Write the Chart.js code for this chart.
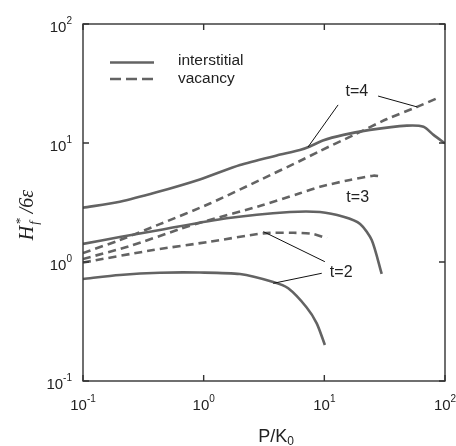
<!DOCTYPE html>
<html>
<head>
<meta charset="utf-8">
<script src="https://cdn.jsdelivr.net/npm/chart.js@4.4.1/dist/chart.umd.min.js"></script>
<style>
  html, body { margin: 0; padding: 0; background: #fff; }
</style>
</head>
<body>
<canvas id="grafico" width="456" height="446"></canvas>
<script>
// valores (P/K0 contra Hf*/6e)
const t4InterX = [0.1, 0.202, 0.406, 0.929, 2.0, 4.03, 6.27, 7.59, 9.72, 14.4, 23.9, 48.3, 66.4, 80.3, 100];
const t4InterY = [2.86, 3.21, 3.85, 4.94, 6.53, 7.85, 8.73, 9.35, 10.5, 11.7, 12.9, 14.0, 13.7, 11.7, 9.94];
const t4VacX = [0.1, 0.202, 0.433, 1.126, 2.93, 6.27, 9.2, 17.3, 33.1, 58.7, 86.1];
const t4VacY = [1.19, 1.53, 2.08, 3.10, 4.89, 7.06, 8.57, 11.6, 15.9, 20.1, 23.8];
const t3InterX = [0.1, 0.202, 0.433, 1.55, 5.19, 9.2, 14.4, 19.8, 24.7, 29.9];
const t3InterY = [1.42, 1.62, 1.86, 2.33, 2.63, 2.63, 2.40, 2.09, 1.53, 0.793];
const t3VacX = [0.1, 0.244, 0.634, 0.985, 3.10, 6.27, 9.2, 16.3, 25.4, 29.9];
const t3VacY = [1.06, 1.36, 1.89, 2.17, 3.01, 3.78, 4.29, 4.89, 5.31, 5.24];
const t2InterX = [0.1, 0.202, 0.433, 0.929, 2.0, 3.77, 5.02, 7.14, 8.65, 10.1];
const t2InterY = [0.72, 0.778, 0.813, 0.816, 0.792, 0.679, 0.601, 0.415, 0.305, 0.201];
const t2VacX = [0.1, 0.381, 1.126, 3.12, 5.53, 8.06, 10.5];
const t2VacY = [0.99, 1.26, 1.48, 1.74, 1.76, 1.72, 1.58];

const marcas = [0.1, 1, 10, 100];
const exponentes = ['-1', '0', '1', '2'];

// etiquetas t=... y sus lineas guia (en unidades de datos)
const etiquetas = [
  { texto: 't=4', x: 18.6, y: 26.9 },
  { texto: 't=3', x: 18.9, y: 3.45 },
  { texto: 't=2', x: 13.8, y: 0.809 }
];
const guias = [
  [13.0, 20.9, 7.33, 9.25],
  [27.9, 24.8, 58.7, 20.1],
  [10.1, 1.006, 3.12, 1.80],
  [9.52, 0.804, 3.77, 0.662]
];

const gris = '#636363';

function serie(xs, ys, discontinua) {
  return {
    data: xs.map((x, i) => ({ x: x, y: ys[i] })),
    borderColor: gris,
    borderWidth: 2.6,
    borderDash: discontinua ? [8, 5] : [],
    pointRadius: 0,
    tension: 0.25,
    fill: false
  };
}

const marco = {
  id: 'marco',
  afterDatasetsDraw(chart) {
    const ctx = chart.ctx;
    const a = chart.chartArea;
    const sx = chart.scales.x;
    const sy = chart.scales.y;
    ctx.save();

    // lineas guia
    ctx.strokeStyle = '#111';
    ctx.lineWidth = 1;
    guias.forEach(g => {
      ctx.beginPath();
      ctx.moveTo(sx.getPixelForValue(g[0]), sy.getPixelForValue(g[1]));
      ctx.lineTo(sx.getPixelForValue(g[2]), sy.getPixelForValue(g[3]));
      ctx.stroke();
    });

    // caja y marcas hacia adentro
    ctx.strokeStyle = '#333';
    ctx.lineWidth = 1.4;
    ctx.strokeRect(a.left, a.top, a.right - a.left, a.bottom - a.top);
    marcas.forEach(v => {
      const px = sx.getPixelForValue(v);
      const py = sy.getPixelForValue(v);
      ctx.beginPath();
      ctx.moveTo(px, a.bottom); ctx.lineTo(px, a.bottom - 6);
      ctx.moveTo(px, a.top); ctx.lineTo(px, a.top + 6);
      ctx.moveTo(a.left, py); ctx.lineTo(a.left + 6, py);
      ctx.moveTo(a.right, py); ctx.lineTo(a.right - 6, py);
      ctx.stroke();
    });

    // etiquetas de las marcas 10^n
    ctx.fillStyle = '#222';
    ctx.textBaseline = 'alphabetic';
    const base = '15px "Liberation Sans", Arial, sans-serif';
    const sup = '10px "Liberation Sans", Arial, sans-serif';
    marcas.forEach((v, i) => {
      ctx.font = base;
      const w1 = ctx.measureText('10').width;
      ctx.font = sup;
      const w2 = ctx.measureText(exponentes[i]).width;
      // eje x
      let x0 = sx.getPixelForValue(v) - (w1 + w2) / 2;
      ctx.textAlign = 'left';
      ctx.font = base;
      ctx.fillText('10', x0, a.bottom + 29);
      ctx.font = sup;
      ctx.fillText(exponentes[i], x0 + w1, a.bottom + 21);
      // eje y
      x0 = a.left - 11 - (w1 + w2);
      const py = sy.getPixelForValue(v);
      ctx.font = base;
      ctx.fillText('10', x0, py + 8);
      ctx.font = sup;
      ctx.fillText(exponentes[i], x0 + w1, py);
    });

    // titulo eje x: P/K0
    ctx.font = '18px "Liberation Sans", Arial, sans-serif';
    const wp = ctx.measureText('P/K').width;
    ctx.font = '12px "Liberation Sans", Arial, sans-serif';
    const w0 = ctx.measureText('0').width;
    let xt = 276 - (wp + w0) / 2;
    ctx.font = '18px "Liberation Sans", Arial, sans-serif';
    ctx.fillText('P/K', xt, 442);
    ctx.font = '12px "Liberation Sans", Arial, sans-serif';
    ctx.fillText('0', xt + wp, 445);

    // titulo eje y: Hf*/6e
    ctx.save();
    ctx.translate(33, 215);
    ctx.rotate(-Math.PI / 2);
    const it = 'italic 20px "Liberation Serif", "Times New Roman", serif';
    const itp = 'italic 13px "Liberation Serif", "Times New Roman", serif';
    ctx.font = it;
    const wH = ctx.measureText('H').width;
    ctx.font = itp;
    const wf = ctx.measureText('f').width + 4;
    ctx.font = it;
    const wr = ctx.measureText(' /6\u03b5').width;
    let xs = -(wH + wf + wr) / 2;
    ctx.font = it;
    ctx.fillText('H', xs, 0);
    ctx.font = itp;
    ctx.fillText('f', xs + wH + 1, 5);
    ctx.fillText('*', xs + wH + 1, -9);
    ctx.font = it;
    ctx.fillText(' /6\u03b5', xs + wH + wf, 0);
    ctx.restore();

    // leyenda
    ctx.strokeStyle = gris;
    ctx.lineWidth = 2.6;
    ctx.beginPath();
    ctx.moveTo(110, 62.5); ctx.lineTo(154, 62.5);
    ctx.stroke();
    ctx.setLineDash([11, 5]);
    ctx.beginPath();
    ctx.moveTo(110, 79); ctx.lineTo(154, 79);
    ctx.stroke();
    ctx.setLineDash([]);
    ctx.font = '15.5px "Liberation Sans", Arial, sans-serif';
    ctx.fillStyle = '#222';
    ctx.textBaseline = 'middle';
    ctx.fillText('interstitial', 178, 61);
    ctx.fillText('vacancy', 178, 79);

    // textos t=
    ctx.font = '16px "Liberation Sans", Arial, sans-serif';
    ctx.textAlign = 'center';
    etiquetas.forEach(e => {
      ctx.fillText(e.texto, sx.getPixelForValue(e.x), sy.getPixelForValue(e.y));
    });
    ctx.restore();
  }
};

new Chart(document.getElementById('grafico'), {
  type: 'line',
  data: {
    datasets: [
      serie(t4InterX, t4InterY, false),
      serie(t4VacX, t4VacY, true),
      serie(t3InterX, t3InterY, false),
      serie(t3VacX, t3VacY, true),
      serie(t2InterX, t2InterY, false),
      serie(t2VacX, t2VacY, true)
    ]
  },
  options: {
    responsive: false,
    animation: false,
    devicePixelRatio: 1,
    layout: { padding: { left: 83, right: 11, top: 24, bottom: 65 } },
    plugins: {
      legend: { display: false },
      tooltip: { enabled: false }
    },
    scales: {
      x: { type: 'logarithmic', min: 0.1, max: 100, display: false },
      y: { type: 'logarithmic', min: 0.1, max: 100, display: false }
    }
  },
  plugins: [marco]
});
</script>
</body>
</html>
